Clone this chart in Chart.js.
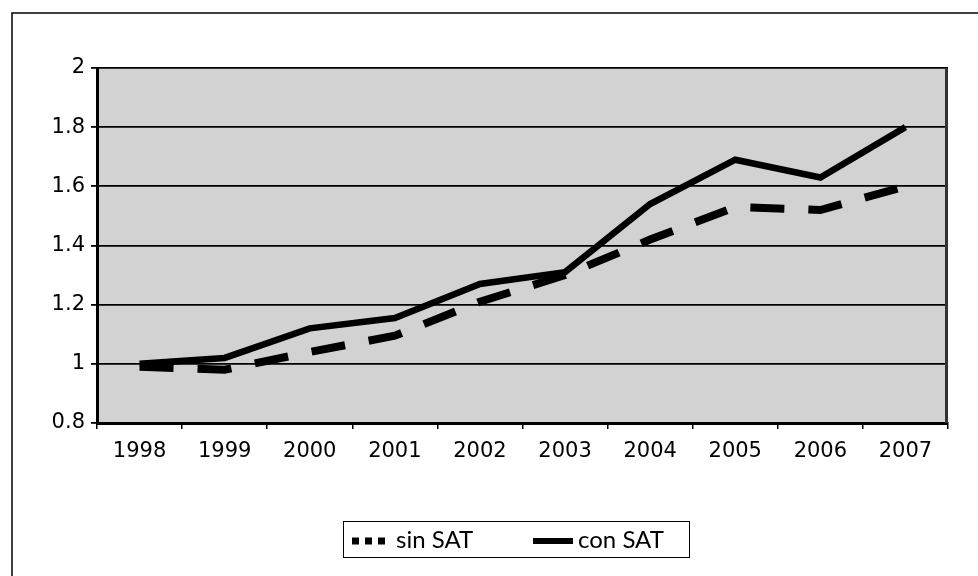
<!DOCTYPE html>
<html>
<head>
<meta charset="utf-8">
<script src="https://cdn.jsdelivr.net/npm/chart.js@4/dist/chart.umd.min.js"></script>
<style>
  html, body { margin: 0; padding: 0; background: #fff; }
  #wrap { width: 978px; height: 576px; position: relative; }
</style>
</head>
<body>
<div id="wrap"><canvas id="chart"></canvas></div>
<script>
// Data
const years = ['1998', '1999', '2000', '2001', '2002', '2003', '2004', '2005', '2006', '2007'];
const sinSAT = [0.99, 0.98, 1.04, 1.095, 1.21, 1.30, 1.42, 1.53, 1.52, 1.60];
const conSAT = [1.00, 1.02, 1.12, 1.155, 1.27, 1.31, 1.54, 1.69, 1.63, 1.80];
const yTicks = [0.8, 1, 1.2, 1.4, 1.6, 1.8, 2];

// Frame, plot background and legend
const decor = {
    id: 'decor',
    beforeDraw(chart) {
        const ctx = chart.ctx;
        const a = chart.chartArea;
        ctx.save();
        ctx.fillStyle = '#fff';
        ctx.fillRect(0, 0, chart.width, chart.height);
        // outer frame (left and top)
        ctx.strokeStyle = '#000';
        ctx.lineWidth = 1.5;
        ctx.beginPath();
        ctx.moveTo(12, chart.height);
        ctx.lineTo(12, 13);
        ctx.lineTo(chart.width, 13);
        ctx.stroke();
        // grey plot area
        ctx.fillStyle = '#d2d2d2';
        ctx.fillRect(a.left, a.top, a.right - a.left, a.bottom - a.top);
        ctx.restore();
    },
    afterDatasetsDraw(chart) {
        const ctx = chart.ctx;
        const a = chart.chartArea;
        ctx.save();
        // dark right edge of the plot area
        ctx.strokeStyle = '#333';
        ctx.lineWidth = 3;
        ctx.beginPath();
        ctx.moveTo(a.right - 1.5, a.top);
        ctx.lineTo(a.right - 1.5, a.bottom);
        ctx.stroke();

        // legend box
        ctx.strokeStyle = '#000';
        ctx.lineWidth = 1;
        ctx.strokeRect(343.5, 521.5, 346, 36);
        ctx.lineWidth = 7;
        ctx.lineCap = 'butt';
        ctx.setLineDash([7, 6]);
        ctx.beginPath();
        ctx.moveTo(352, 541);
        ctx.lineTo(388, 541);
        ctx.stroke();
        ctx.setLineDash([]);
        ctx.lineWidth = 6;
        ctx.beginPath();
        ctx.moveTo(533, 541);
        ctx.lineTo(573, 541);
        ctx.stroke();
        ctx.fillStyle = '#000';
        ctx.font = '24px Lato, "Open Sans", sans-serif';
        ctx.textBaseline = 'middle';
        ctx.textAlign = 'left';
        ctx.fillText('sin SAT', 396, 540);
        ctx.fillText('con SAT', 578, 540);
        ctx.restore();
    }
};

const tickFont = { family: '"DejaVu Sans", sans-serif', size: 21 };

new Chart(document.getElementById('chart'), {
    type: 'line',
    data: {
        labels: years,
        datasets: [
            {
                label: 'sin SAT',
                data: sinSAT,
                borderColor: '#000',
                borderWidth: 8,
                borderDash: [34, 24],
                borderCapStyle: 'butt',
                pointRadius: 0,
                tension: 0,
                fill: false
            },
            {
                label: 'con SAT',
                data: conSAT,
                borderColor: '#000',
                borderWidth: 6.5,
                pointRadius: 0,
                tension: 0,
                fill: false
            }
        ]
    },
    options: {
        responsive: true,
        maintainAspectRatio: false,
        animation: false,
        layout: { padding: { top: 68, right: 30, left: 0, bottom: 0 } },
        plugins: {
            legend: { display: false },
            tooltip: { enabled: false }
        },
        scales: {
            x: {
                offset: true,
                grid: {
                    offset: true,
                    drawOnChartArea: false,
                    drawTicks: true,
                    tickLength: 6,
                    color: '#000',
                    lineWidth: 1.5
                },
                border: { color: '#000', width: 3 },
                ticks: { color: '#000', font: tickFont, padding: 10, maxRotation: 0 },
                afterFit(scale) { scale.height = 153; }
            },
            y: {
                min: 0.8,
                max: 2,
                afterBuildTicks(scale) { scale.ticks = yTicks.map(v => ({ value: v })); },
                grid: {
                    color: '#000',
                    lineWidth: 1.8,
                    tickLength: 6
                },
                border: { color: '#000', width: 3 },
                ticks: {
                    color: '#000',
                    font: tickFont,
                    padding: 6,
                    callback: v => String(Math.round(v * 10) / 10)
                },
                afterFit(scale) { scale.width = 97; }
            }
        }
    },
    plugins: [decor]
});
</script>
</body>
</html>
